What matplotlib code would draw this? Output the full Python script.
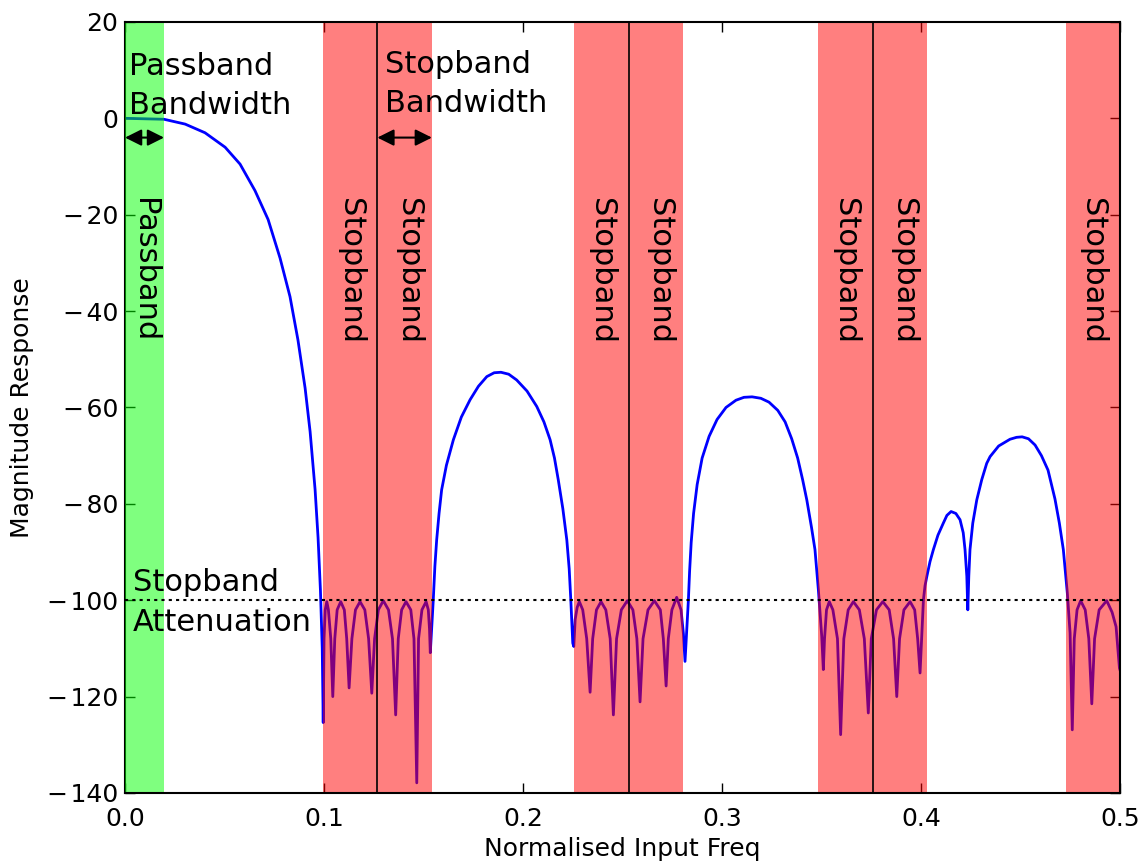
import matplotlib
matplotlib.use('Agg')
import matplotlib.pyplot as plt

# magnitude response (normalised freq, dB)
freq = [
    # main lobe
    0.0, 0.0196, 0.0302, 0.0402, 0.0503, 0.0578, 0.0653, 0.0719, 0.0779, 0.0829,
    0.0869, 0.0905, 0.0930, 0.0955, 0.0970, 0.0982, 0.0991,
    # stopband 1
    0.0996, 0.1000, 0.1006, 0.1014, 0.1022, 0.1034, 0.1044,
    0.1054, 0.1066, 0.1084, 0.1102, 0.1114, 0.1126,
    0.1140, 0.1158, 0.1181, 0.1205, 0.1224, 0.1240,
    0.1254, 0.1273, 0.1298, 0.1324, 0.1344, 0.1360,
    0.1373, 0.1390, 0.1412, 0.1436, 0.1452, 0.1466,
    0.1475, 0.1492, 0.1513, 0.1524, 0.1530, 0.1534,
    # sidelobe 1
    0.1549, 0.1557, 0.1566, 0.1578, 0.1591, 0.1615, 0.1650, 0.1690, 0.1734, 0.1776,
    0.1818, 0.1855, 0.1889, 0.1928, 0.1968, 0.2020, 0.2069, 0.2105, 0.2136, 0.2158,
    0.2177, 0.2200, 0.2220, 0.2232, 0.2240, 0.2250,
    # stopband 2
    0.2255, 0.2262, 0.2272, 0.2283, 0.2300, 0.2320, 0.2337,
    0.2350, 0.2369, 0.2392, 0.2416, 0.2438, 0.2454,
    0.2470, 0.2494, 0.2524, 0.2552, 0.2572, 0.2588,
    0.2603, 0.2628, 0.2660, 0.2690, 0.2705, 0.2719,
    0.2730, 0.2748, 0.2772, 0.2794, 0.2806, 0.2814,
    # sidelobe 2
    0.2831, 0.2837, 0.2845, 0.2857, 0.2875, 0.2900, 0.2935, 0.2975, 0.3020, 0.3070,
    0.3110, 0.3151, 0.3195, 0.3236, 0.3280, 0.3317, 0.3350, 0.3380, 0.3405, 0.3426,
    0.3450, 0.3467, 0.3484, 0.3501,
    # stopband 3
    0.3509, 0.3515, 0.3525, 0.3539, 0.3557, 0.3580, 0.3596,
    0.3612, 0.3634, 0.3660, 0.3690, 0.3715, 0.3735,
    0.3750, 0.3776, 0.3808, 0.3840, 0.3862, 0.3878,
    0.3892, 0.3914, 0.3945, 0.3968, 0.3983, 0.3995,
    # small lobe
    0.4012, 0.4020, 0.4029, 0.4045, 0.4062, 0.4085, 0.4112, 0.4130, 0.4151, 0.4175,
    0.4196, 0.4212, 0.4221, 0.4230, 0.4235,
    # sidelobe 3
    0.4240, 0.4246, 0.4260, 0.4280, 0.4305, 0.4330, 0.4347, 0.4390, 0.4447, 0.4480,
    0.4508, 0.4540, 0.4573, 0.4605, 0.4638, 0.4673, 0.4695, 0.4715, 0.4735, 0.4749,
    # stopband 4
    0.4760, 0.4770, 0.4784, 0.4802, 0.4825, 0.4843, 0.4858,
    0.4872, 0.4895, 0.4933, 0.4960, 0.4980, 0.4997, 0.5,
]
mag = [
    0.0, -0.2, -1.2, -3.0, -6.0, -9.5, -15.0, -21.0, -29.0, -37.0,
    -46.0, -56.0, -65.0, -77.0, -87.0, -98.0, -110.0,
    -125.4, -108, -102, -100.3, -102, -108, -120.0,
    -108, -102, -100.3, -102, -108, -118.2,
    -108, -102, -100.3, -102, -108, -119.3,
    -108, -102, -100.1, -102, -108, -123.8,
    -108, -102, -100.3, -102, -108, -137.9,
    -108, -102, -100.3, -102, -106, -110.9,
    -99.9, -93.0, -87.5, -82.0, -77.1, -72.0, -66.7, -62.0, -58.4, -55.6,
    -53.6, -52.8, -52.7, -53.1, -54.3, -56.6, -59.8, -63.0, -66.7, -70.5,
    -75.0, -81.0, -87.5, -93.5, -99.9, -108.9,
    -109.6, -104, -101.5, -100.3, -102, -108, -119.1,
    -108, -102, -100.3, -102, -108, -123.8,
    -108, -102, -100.1, -102, -108, -121.1,
    -108, -102, -100.1, -102, -108, -117.8,
    -108, -102, -99.4, -102, -107, -112.7,
    -99.9, -94.0, -88.0, -82.0, -76.0, -70.5, -66.0, -62.5, -60.0, -58.5,
    -57.9, -57.8, -58.1, -58.9, -60.6, -63.0, -66.5, -70.5, -75.0, -79.2,
    -85.0, -89.5, -97.8, -107.5,
    -114.4, -108, -102, -100.3, -102, -108, -127.9,
    -108, -102, -100.3, -102, -108, -123.4,
    -108, -102, -100.3, -102, -108, -120.0,
    -108, -102, -100.3, -102, -108, -115.1,
    -99.9, -97.0, -95.1, -92.0, -89.5, -86.5, -84.0, -82.4, -81.6, -82.0,
    -83.3, -86.0, -89.5, -95.0, -102.0,
    -95.0, -89.5, -84.0, -79.2, -75.0, -71.6, -70.2, -68.0, -66.6, -66.2,
    -66.1, -66.5, -67.8, -70.0, -73.0, -79.0, -84.0, -89.5, -98.5, -106.8,
    -126.9, -108, -102, -100.1, -102, -108, -121.5,
    -108, -102, -100.1, -102.5, -105.5, -114.1, -114.5,
]

passband_edge = 0.0196
stop_centres = [0.1268, 0.2530, 0.3757, 0.5]
stop_half = 0.0274
atten = -100

xtick_vals = [0.0, 0.1, 0.2, 0.3, 0.4, 0.5]
xtick_labels = ['0.0', '0.1', '0.2', '0.3', '0.4', '0.5']
ytick_vals = [20, 0, -20, -40, -60, -80, -100, -120, -140]
ytick_labels = ['20', '0', '\u2212\u200a20', '\u2212\u200a40', '\u2212\u200a60', '\u2212\u200a80',
                '\u2212\u200a100', '\u2212\u200a120', '\u2212\u200a140']

fig = plt.figure(figsize=(11.47, 8.67), dpi=100)
ax = fig.add_axes([0.109, 0.0854, 0.8675, 0.8893])

ax.plot(freq, mag, color='blue', lw=2, zorder=2)
ax.axhline(atten, color='k', ls=(0, (1.5, 2)), lw=1.5, zorder=4)

# bands
ax.axvspan(0, passband_edge, color='lime', alpha=0.5, lw=0, zorder=3)
ax.text(passband_edge / 2, -16.5, 'Passband', rotation=270, ha='center', va='top',
        fontsize=22, zorder=5)
for c in stop_centres:
    ax.axvspan(c - stop_half, c + stop_half, color='red', alpha=0.5, lw=0, zorder=3)
    ax.text(c - stop_half / 2, -16.5, 'Stopband', rotation=270, ha='center', va='top',
            fontsize=22, zorder=5)
    if c < 0.5:
        ax.axvline(c, color='k', lw=1.2, zorder=4)
        ax.text(c + stop_half / 2 + 0.002, -16.5, 'Stopband', rotation=270, ha='center',
                va='top', fontsize=22, zorder=5)

# annotations
arrow = dict(arrowstyle='<|-|>', color='k', lw=1.5, mutation_scale=25, shrinkA=0, shrinkB=0)
ax.annotate('', xy=(0, -4), xytext=(passband_edge, -4), arrowprops=arrow, zorder=5)
ax.annotate('', xy=(stop_centres[0], -4), xytext=(stop_centres[0] + stop_half, -4),
            arrowprops=arrow, zorder=5)
ax.text(0.002, 0.8, 'Passband\nBandwidth', fontsize=22, va='baseline', linespacing=1.45,
        zorder=5)
ax.text(0.1307, 1.3, 'Stopband\nBandwidth', fontsize=22, va='baseline', linespacing=1.45,
        zorder=5)
ax.text(0.0039, atten - 0.5, 'Stopband\nAttenuation', fontsize=22, va='center',
        linespacing=1.45, zorder=5)

ax.set_xlim(0, 0.5)
ax.set_ylim(-140, 20)
ax.set_xticks(xtick_vals)
ax.set_xticklabels(xtick_labels)
ax.set_yticks(ytick_vals)
ax.set_yticklabels(ytick_labels)
ax.tick_params(direction='in', top=True, right=True, length=7, width=1, labelsize=18)
ax.tick_params(axis='x', pad=10)
ax.tick_params(axis='y', pad=5)
for side in ['top', 'bottom', 'right']:
    ax.spines[side].set_zorder(4)
for s in ax.spines.values():
    s.set_linewidth(1.5)
ax.set_xlabel('Normalised Input Freq', fontsize=18)
ax.set_ylabel('Magnitude Response', fontsize=18)
ax.xaxis.set_label_coords(0.5, -0.057)
ax.yaxis.set_label_coords(-0.0915, 0.5)

fig.savefig('out.png', dpi=100)
